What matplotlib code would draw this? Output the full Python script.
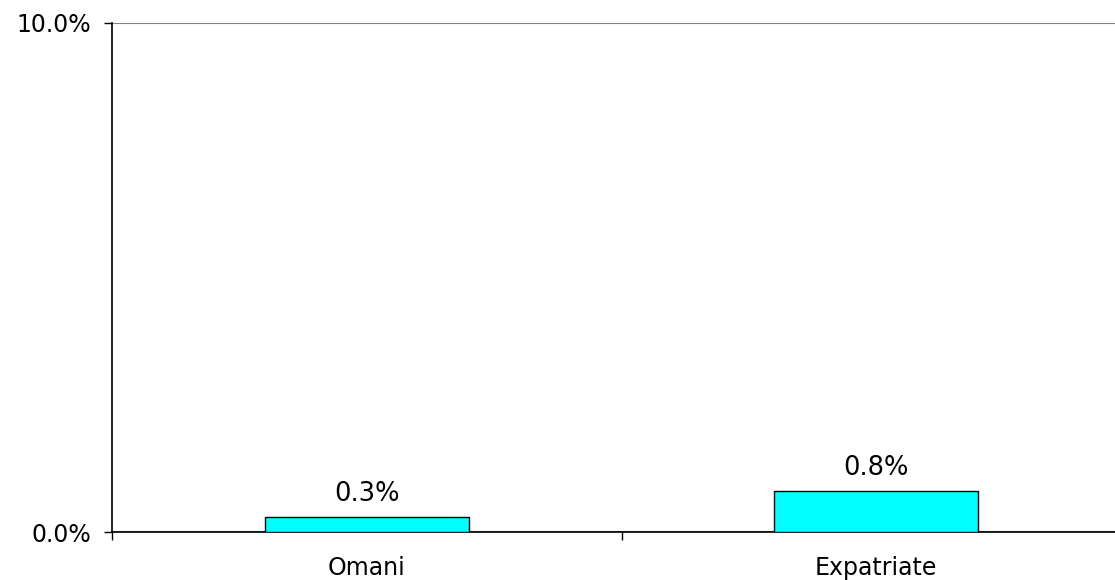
import matplotlib
matplotlib.use("Agg")
import matplotlib.pyplot as plt

categories = ["Omani", "Expatriate"]
values = [0.3, 0.8]
value_labels = ["0.3%", "0.8%"]
y_ticks = [0.0, 10.0]
y_tick_labels = ["0.0%", "10.0%"]

plt.rcParams['font.family'] = ['DejaVu Sans']

fig = plt.figure(figsize=(11.15, 5.8), dpi=100)
ax = fig.add_axes([112/1115, 48/580, 1019/1115, 509/580])

x = list(range(len(categories)))
bars = ax.bar(x, values, width=0.4, color="#00FFFF", edgecolor="black", linewidth=1.0, zorder=3)

ax.set_xlim(-0.5, len(categories) - 0.5)
ax.set_ylim(0, 10)

ax.set_yticks(y_ticks)
ax.set_yticklabels(y_tick_labels, fontsize=17)
ax.tick_params(axis='y', direction='out', length=6, width=1, pad=9)
ax.yaxis.grid(True, color="#808080", linewidth=1.5, zorder=0)

ax.set_xticks([i - 0.5 for i in range(len(categories) + 1)])
ax.set_xticklabels([])
ax.tick_params(axis='x', which='major', direction='out', length=6, width=1)
ax.set_xticks(x, minor=True)
ax.set_xticklabels(categories, minor=True, fontsize=17)
ax.tick_params(axis='x', which='minor', length=0, pad=17)

for spine in ["top", "right"]:
    ax.spines[spine].set_visible(False)
ax.spines["left"].set_linewidth(1.2)
ax.spines["bottom"].set_linewidth(1.2)

for xi, v, lab in zip(x, values, value_labels):
    ax.annotate(lab, (xi, v), xytext=(0, 11.5), textcoords="offset points",
                ha="center", va="baseline", fontsize=18.5)

fig.savefig("out.png", dpi=100)
